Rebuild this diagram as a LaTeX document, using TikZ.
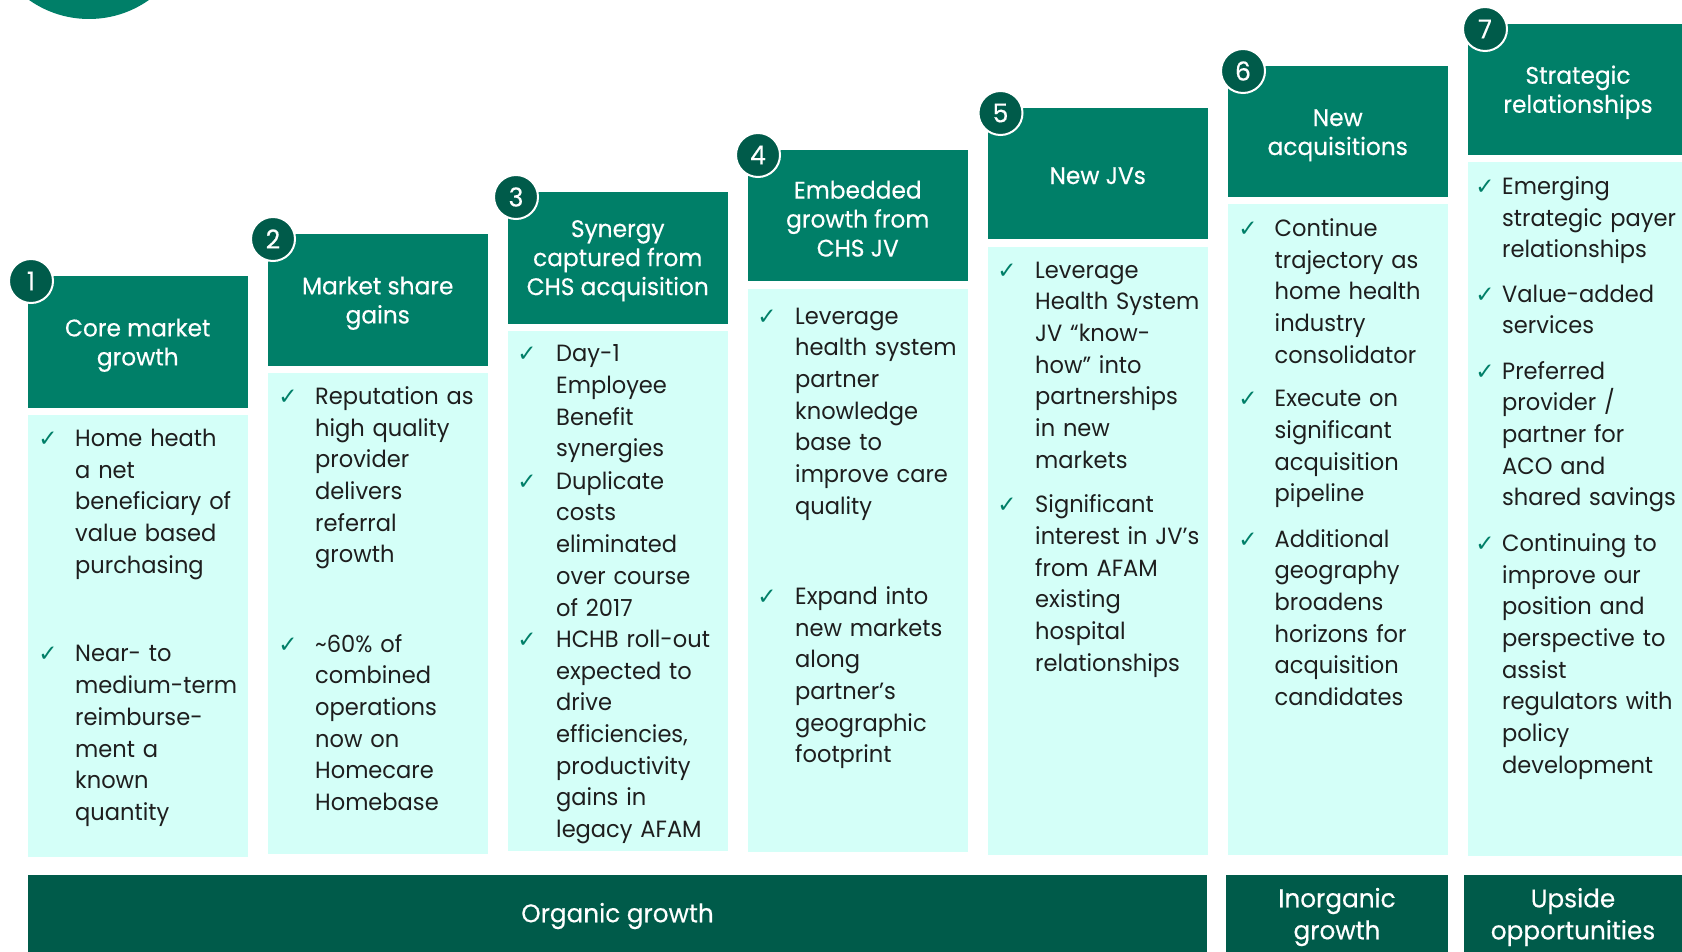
\documentclass[tikz,border=0pt]{standalone}
\usepackage{fontspec}
\setmainfont[FakeStretch=0.96]{Poppins}
\newfontfamily\headfont[FakeStretch=0.97, FakeBold=0.35]{Poppins}
\newfontfamily\symfont{DejaVu Sans}
\definecolor{hdrteal}{HTML}{007F68}
\definecolor{deepgreen}{HTML}{005B4A}
\definecolor{paleaqua}{HTML}{D4FFF8}
\definecolor{bodyink}{HTML}{1E1E1E}

\tikzset{
  hdrbox/.style={fill=hdrteal, anchor=north west, minimum width=219.5pt,
    minimum height=131.5pt, inner sep=0pt, outer sep=0pt},
  hdrtext/.style={text=white, align=center, inner sep=0pt,
    font=\headfont\fontsize{24}{29}\selectfont},
  bodybox/.style={fill=paleaqua, anchor=north west, minimum width=219.5pt,
    inner sep=0pt, outer sep=0pt},
  numdisc/.style={circle, fill=deepgreen, draw=white, line width=2pt,
    minimum size=44pt, inner sep=0pt, text=white,
    font=\headfont\fontsize{26}{26}\selectfont},
  tick/.style={text=hdrteal, font=\symfont\fontsize{23}{23}\selectfont,
    anchor=base, inner sep=0pt},
  itemtext/.style={anchor=base west, text width=215pt, align=left,
    inner sep=0pt, text=bodyink, font=\fontsize{23.5}{31.7}\selectfont},
  barbox/.style={fill=deepgreen, anchor=north west, inner sep=0pt,
    outer sep=0pt},
  bartext/.style={text=white, align=center, inner sep=0pt,
    font=\headfont\fontsize{25.5}{32}\selectfont},
}

% one ticked entry: name, column left edge, first baseline, tick offset, text offset, text
\newcommand{\tickentry}[6]{%
  \node[tick] (#1c) at (#2+#4, #3) {✓};
  \node[itemtext] (#1t) at (#2+#5, #3) {#6};
}

\begin{document}
\begin{tikzpicture}[x=1pt, y=-1pt]
\useasboundingbox (0,0) rectangle (1682,952);
\fill[white] (0,0) rectangle (1682,952);

% decorative disc in the top-left corner
\node[circle, fill=hdrteal, minimum size=208pt, inner sep=0pt] (corner) at (89,-85) {};

% column headers
\node[hdrbox] (h1) at (28,276)  {};
\node[hdrbox] (h2) at (268,234) {};
\node[hdrbox] (h3) at (508,192) {};
\node[hdrbox] (h4) at (748,150) {};
\node[hdrbox] (h5) at (988,108) {};
\node[hdrbox] (h6) at (1228,66) {};
\node[hdrbox, minimum width=230pt] (h7) at (1468,24) {};

\node[hdrtext] (t1) at ([yshift=-3.5pt]h1.center) {Core market\\growth};
\node[hdrtext] (t2) at ([yshift=-3.5pt]h2.center) {Market share\\gains};
\node[hdrtext] (t3) at ([yshift=-3pt]h3.center) {Synergy\\captured from\\CHS acquisition};
\node[hdrtext] (t4) at ([yshift=-3pt]h4.center) {Embedded\\growth from\\CHS JV};
\node[hdrtext] (t5) at ([yshift=-2pt]h5.center) {New JVs};
\node[hdrtext] (t6) at ([yshift=-3.5pt]h6.center) {New\\acquisitions};
\node[hdrtext] (t7) at ([xshift=-5pt, yshift=-2.5pt]h7.center) {Strategic\\relationships};

% column bodies
\node[bodybox, minimum height=442pt] (b1) at (28,415)   {};
\node[bodybox, minimum height=481pt] (b2) at (268,373)  {};
\node[bodybox, minimum height=520pt] (b3) at (508,331)  {};
\node[bodybox, minimum height=563pt] (b4) at (748,289)  {};
\node[bodybox, minimum height=608pt] (b5) at (988,247)  {};
\node[bodybox, minimum height=651pt] (b6) at (1228,204) {};
\node[bodybox, minimum height=694pt, minimum width=230pt] (b7) at (1468,162) {};

% step numbers
\node[numdisc] (n1) at (31,281)     {1};
\node[numdisc] (n2) at (273,239)    {2};
\node[numdisc] (n3) at (516,197)    {3};
\node[numdisc] (n4) at (758,155)    {4};
\node[numdisc] (n5) at (1000.5,113) {5};
\node[numdisc] (n6) at (1243,71)    {6};
\node[numdisc] (n7) at (1485,29)    {7};

% column 1
\tickentry{e11}{28}{446.3}{20}{47}{Home heath\\a net\\beneficiary of\\value based\\purchasing}
\tickentry{e12}{28}{661.9}{20}{47}{Near- to\\medium-term\\reimburse-\\ment a\\known\\quantity}
% column 2
\tickentry{e21}{268}{404.4}{20}{47}{Reputation as\\high quality\\provider\\delivers\\referral\\growth}
\tickentry{e22}{268}{652.0}{20}{47}{\textasciitilde60\% of\\combined\\operations\\now on\\Homecare\\Homebase}
% column 3
\tickentry{e31}{508}{361.6}{19}{48}{Day-1\\Employee\\Benefit\\synergies}
\tickentry{e32}{508}{489.2}{19}{48}{Duplicate\\costs\\eliminated\\over course\\of 2017}
\tickentry{e33}{508}{647.4}{19}{48}{HCHB roll-out\\expected to\\drive\\efficiencies,\\productivity\\gains in\\legacy AFAM}
% column 4
\tickentry{e41}{748}{324.0}{19}{47}{Leverage\\health system\\partner\\knowledge\\base to\\improve care\\quality}
\tickentry{e42}{748}{604.3}{19}{47}{Expand into\\new markets\\along\\partner’s\\geographic\\footprint}
% column 5
\tickentry{e51}{988}{278.2}{19}{47}{Leverage\\Health System\\JV “know-\\how” into\\partnerships\\in new\\markets}
\tickentry{e52}{988}{512.8}{19}{47}{Significant\\interest in JV’s\\from AFAM\\existing\\hospital\\relationships}
% column 6
\tickentry{e61}{1228}{236.5}{20}{46.5}{Continue\\trajectory as\\home health\\industry\\consolidator}
\tickentry{e62}{1228}{406.6}{20}{46.5}{Execute on\\significant\\acquisition\\pipeline}
\tickentry{e63}{1228}{547.1}{20}{46.5}{Additional\\geography\\broadens\\horizons for\\acquisition\\candidates}
% column 7
\tickentry{e71}{1468}{194.6}{17}{34}{Emerging\\strategic payer\\relationships}
\tickentry{e72}{1468}{302.0}{17}{34}{Value-added\\services}
\tickentry{e73}{1468}{379.0}{17}{34}{Preferred\\provider /\\partner for\\ACO and\\shared savings}
\tickentry{e74}{1468}{551.4}{17}{34}{Continuing to\\improve our\\position and\\perspective to\\assist\\regulators with\\policy\\development}

% category bars along the bottom
\node[barbox, minimum width=1179pt, minimum height=80pt] (organic) at (28,875) {};
\node[barbox, minimum width=222pt, minimum height=80pt] (inorganic) at (1226,875) {};
\node[barbox, minimum width=236pt, minimum height=80pt] (upside) at (1464,875) {};
\node[bartext] (organiclbl) at ([yshift=-1pt]organic.center) {Organic growth};
\node[bartext] (inorganiclbl) at ([yshift=-2pt]inorganic.center) {Inorganic\\growth};
\node[bartext] (upsidelbl) at ([xshift=-9pt, yshift=-2pt]upside.center) {Upside\\opportunities};
\end{tikzpicture}
\end{document}
